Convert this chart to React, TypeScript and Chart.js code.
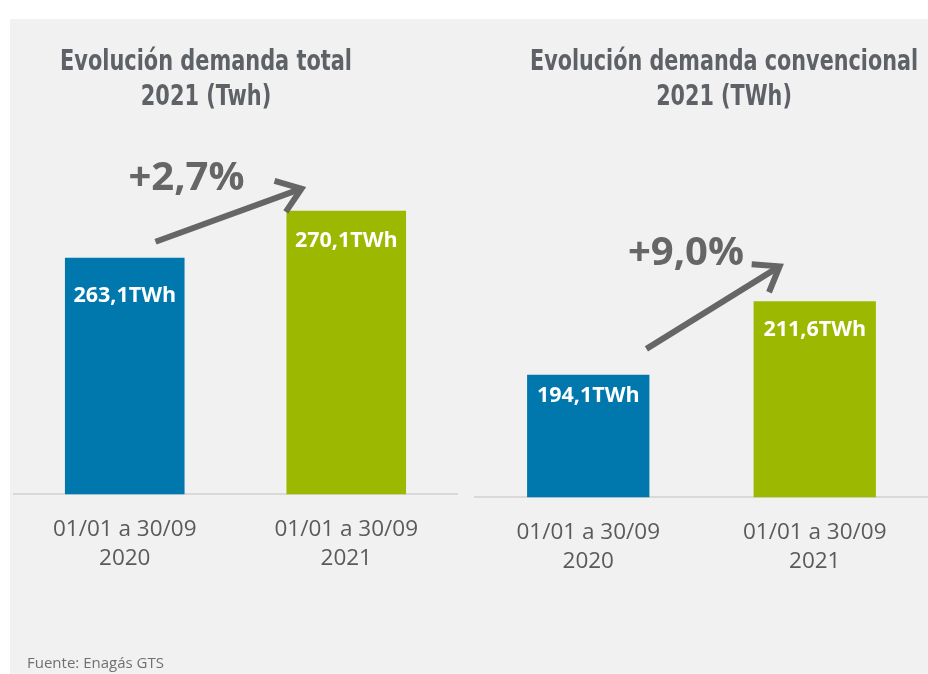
import React, { useEffect, useRef } from "react";
import { Chart, registerables } from "chart.js";

Chart.register(...registerables);

// ---------- data ----------
const categories = [
  ["01/01 a 30/09", "2020"],
  ["01/01 a 30/09", "2021"],
];
const totalValues = [263.1, 270.1];
const conventionalValues = [194.1, 211.6];
const totalTitle = ["Evolución demanda total", "2021 (Twh)"];
const conventionalTitle = ["Evolución demanda convencional", "2021 (TWh)"];
const barColors = ["#0078ad", "#9cb800"];
const unit = "TWh";
const sourceText = "Fuente: Enagás GTS";

const fmt = (v: number) => v.toFixed(1).replace(".", ",");
const growth = (vals: number[]) => "+" + fmt((vals[1] / vals[0] - 1) * 100) + "%";

const annotPlugin = {
  id: "annot",
  afterDatasetsDraw(chart: any, _args: any, opts: any) {
    const ctx: CanvasRenderingContext2D = chart.ctx;
    const bars = chart.getDatasetMeta(0).data as any[];
    const vals = chart.data.datasets[0].data as number[];

    // value labels inside bars
    ctx.save();
    ctx.fillStyle = "#ffffff";
    ctx.font = "bold 21.5px 'Open Sans', sans-serif";
    ctx.textAlign = "center";
    ctx.textBaseline = "middle";
    bars.forEach((b, i) => {
      ctx.fillText(fmt(vals[i]) + unit, b.x, b.y + opts.labelOffsets[i]);
    });
    ctx.restore();

    // arrow
    const b0 = bars[0];
    const b1 = bars[1];
    const sx = b0.x + b0.width / 2 + opts.arrowStart[0];
    const sy = b0.y + opts.arrowStart[1];
    const ex = b1.x - b1.width / 2 + opts.arrowEnd[0];
    const ey = b1.y + opts.arrowEnd[1];
    const ang = Math.atan2(ey - sy, ex - sx);
    const head = 28;
    const spread = (36 * Math.PI) / 180;
    ctx.save();
    ctx.strokeStyle = "#666666";
    ctx.lineWidth = 6;
    ctx.lineCap = "butt";
    ctx.lineJoin = "miter";
    ctx.beginPath();
    ctx.moveTo(sx, sy);
    ctx.lineTo(ex, ey);
    ctx.stroke();
    ctx.beginPath();
    ctx.moveTo(ex + head * Math.cos(ang + Math.PI - spread), ey + head * Math.sin(ang + Math.PI - spread));
    ctx.lineTo(ex, ey);
    ctx.lineTo(ex + head * Math.cos(ang + Math.PI + spread), ey + head * Math.sin(ang + Math.PI + spread));
    ctx.stroke();

    // growth text
    ctx.fillStyle = "#666666";
    ctx.font = "bold 40px 'Open Sans', sans-serif";
    ctx.textAlign = "center";
    ctx.textBaseline = "middle";
    ctx.fillText(growth(vals), (sx + ex) / 2 + opts.textOffset[0], (sy + ey) / 2 + opts.textOffset[1]);
    ctx.restore();

    // title
    ctx.save();
    ctx.fillStyle = "#5e6166";
    ctx.font = "bold 29px 'Liberation Sans Narrow', 'DejaVu Sans Condensed', sans-serif";
    ctx.textAlign = "center";
    ctx.textBaseline = "alphabetic";
    const lines: string[] = opts.title;
    const w0 = ctx.measureText(lines[0]).width;
    const sc = opts.titleWidth / w0;
    lines.forEach((ln, i) => {
      ctx.save();
      ctx.translate(opts.titleX, opts.titleY[i]);
      ctx.scale(sc, 1);
      ctx.fillText(ln, 0, 0);
      ctx.restore();
    });
    ctx.restore();
  },
};

function makeConfig(values: number[], yMin: number, yMax: number, padding: any, annot: any): any {
  return {
    type: "bar",
    data: {
      labels: categories,
      datasets: [
        {
          data: values,
          backgroundColor: barColors,
          borderWidth: 0,
          barPercentage: 0.54,
          categoryPercentage: 1,
        },
      ],
    },
    options: {
      animation: false,
      responsive: false,
      maintainAspectRatio: false,
      layout: { padding },
      plugins: {
        legend: { display: false },
        tooltip: { enabled: false },
        title: { display: false },
        annot,
      },
      scales: {
        x: {
          grid: { display: false, drawTicks: false },
          border: { display: true, color: "#d9d9d9", width: 2 },
          ticks: {
            color: "#5a5a5a",
            font: { family: "'Open Sans', sans-serif", size: 22.5, lineHeight: 1.33 },
            padding: 20,
          },
        },
        y: { display: false, min: yMin, max: yMax },
      },
    },
    plugins: [annotPlugin],
  };
}

function BarPanel(props: { cfg: any; left: number }) {
  const ref = useRef<HTMLCanvasElement>(null);
  useEffect(() => {
    if (!ref.current) return;
    const chart = new Chart(ref.current, props.cfg);
    return () => chart.destroy();
  }, []);
  return (
    <canvas
      ref={ref}
      width={464}
      height={674}
      style={{ position: "absolute", left: props.left, top: 0, width: 464, height: 674 }}
    />
  );
}

export default function App() {
  const leftCfg = makeConfig(totalValues, 228, 280, { left: 14, right: 7, top: 144, bottom: 80 }, {
    labelOffsets: [38, 30],
    arrowStart: [-29, -16],
    arrowEnd: [15, -22],
    textOffset: [-42, -37],
    title: totalTitle,
    titleX: 206,
    titleY: [70, 105],
    titleWidth: 292,
  });
  const rightCfg = makeConfig(conventionalValues, 165, 240, { left: 11, right: 0, top: 182, bottom: 77 }, {
    labelOffsets: [21, 29],
    arrowStart: [-3, -26],
    arrowEnd: [26, -35],
    textOffset: [-27, -54],
    title: conventionalTitle,
    titleX: 260,
    titleY: [70, 105],
    titleWidth: 388,
  });
  return (
    <div style={{ position: "absolute", left: 0, top: 0, width: 928, height: 674, background: "#ffffff", overflow: "hidden" }}>
      <div style={{ position: "absolute", left: 10, top: 19, width: 918, height: 655, background: "#f1f1f1" }} />
      <BarPanel cfg={leftCfg} left={0} />
      <BarPanel cfg={rightCfg} left={464} />
      <div
        style={{
          position: "absolute",
          left: 27,
          top: 653,
          fontFamily: "'Open Sans', sans-serif",
          fontSize: 15,
          lineHeight: "18px",
          color: "#707070",
          whiteSpace: "nowrap",
        }}
      >
        {sourceText}
      </div>
    </div>
  );
}
